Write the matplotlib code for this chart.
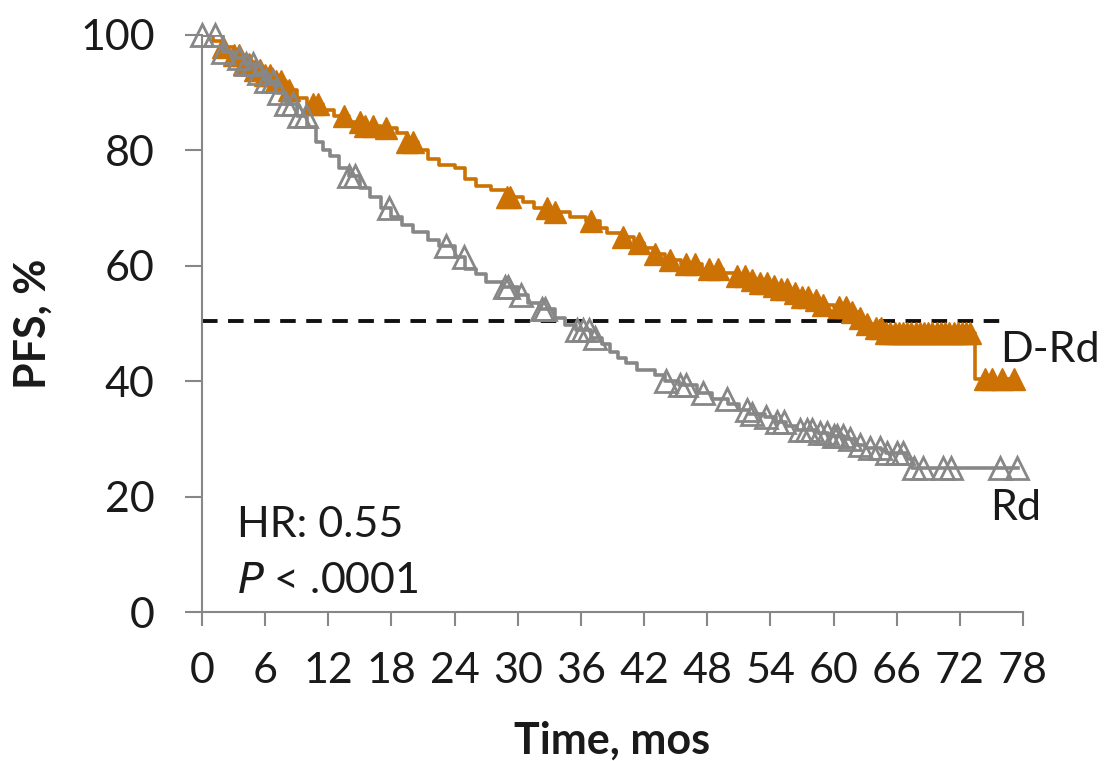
import numpy as np
import matplotlib
matplotlib.use("Agg")
import matplotlib.pyplot as plt

plt.rcParams['font.family'] = ['Lato', 'DejaVu Sans']

# Kaplan-Meier step curves (time of change, survival after change)
drd_t = [0, 1.0, 2.0, 3.0, 4.0, 5.0, 6.0, 7.0, 8.0, 9.0, 10.0, 11.5, 12.5, 14.0, 15.5,
         17.0, 18.5, 19.5, 20.5, 21.5, 22.5, 24.0, 25.0, 26.0, 27.5, 29.0, 30.5, 31.5,
         33.0, 35.0, 36.5, 37.8, 38.5, 40.0, 41.0, 42.0, 43.0, 44.0, 45.5, 47.5, 49.5,
         50.5, 52.0, 53.0, 54.0, 55.0, 56.0, 57.0, 58.0, 59.0, 60.0, 61.5, 62.5, 63.2,
         64.0, 64.7, 73.4, 77.5]
drd_s = [100, 99, 98, 96.5, 95, 94, 93, 92, 90.5, 89, 88, 87, 86, 85, 84.3,
         83.8, 83, 81.5, 80, 78.5, 77.5, 77, 75, 73.8, 73.2, 72, 71, 70,
         69.3, 68.5, 67.8, 66.5, 65.7, 65, 64, 63, 62, 61, 60.3, 59.5, 58.8,
         58.2, 57.5, 57, 56.5, 56, 55.3, 54.6, 54, 53.2, 52.8, 52, 51, 50,
         49.2, 48.4, 40.4, 40.4]
drd_cens = [2.0, 3.0, 3.5, 4.0, 4.5, 5.0, 5.5, 6.0, 6.5, 7.0, 7.5, 8.3, 10.5, 11.0,
            13.5, 15.0, 15.5, 16.2, 17.5, 19.5, 20.0, 29.0, 29.3, 32.8, 33.5, 37.0,
            40.0, 41.5, 43.0, 44.5, 46.0, 46.8, 48.2, 49.0, 50.8, 51.6, 52.3, 53.0,
            53.7, 54.3, 55.0, 55.6, 56.3, 57.0, 57.6, 58.3, 59.0, 60.5, 61.2, 61.8,
            62.5, 63.2, 64.0, 64.5, 65.0, 65.4, 65.8, 66.2, 66.6, 67.0, 67.4, 67.8,
            68.2, 68.6, 69.0, 69.4, 69.8, 70.2, 70.6, 71.0, 71.4, 71.8, 72.2, 72.6,
            73.0, 74.4, 75.1, 76.0, 77.1]

rd_t = [0, 2.0, 3.0, 4.0, 5.0, 6.0, 7.0, 8.0, 9.0, 10.0, 10.8, 11.5, 12.2, 13.0, 14.0,
        15.0, 16.0, 17.0, 18.0, 19.0, 20.0, 21.5, 22.5, 24.0, 25.0, 26.0, 27.0, 28.5,
        30.0, 31.0, 32.0, 33.5, 34.5, 35.5, 37.0, 38.0, 38.8, 39.5, 40.3, 41.3, 43.0,
        44.0, 45.3, 47.0, 48.5, 50.0, 51.0, 52.0, 53.5, 54.5, 55.5, 56.5, 58.5, 59.5,
        61.0, 62.0, 63.0, 64.5, 65.0, 67.0, 67.5, 77.5]
rd_s = [100, 97, 96, 95, 93.5, 92, 90, 88, 86, 84, 81.5, 80, 79, 77, 75.5,
        73.5, 72, 70, 68.5, 67, 65.8, 64.5, 63.5, 61.5, 59.5, 58.5, 57.2, 56.3,
        55, 53.5, 52.5, 51, 49.8, 48.8, 47.5, 46.5, 45, 44, 43.2, 42, 41,
        40, 39.3, 38, 37, 36, 35, 34.3, 33.8, 33, 32.2, 31.5, 31, 30.5,
        30, 29, 28.5, 28, 27.6, 26.5, 25, 25]
rd_cens = [0.0, 1.2, 2.0, 3.5, 4.2, 4.8, 5.4, 6.1, 6.7, 7.3, 8.0, 8.6, 9.2, 9.9,
           14.0, 14.5, 17.8, 23.2, 24.9, 28.8, 29.1, 30.3, 32.3, 32.6, 35.6, 36.2,
           36.8, 37.3, 44.1, 45.4, 46.0, 47.6, 49.9, 51.8, 52.3, 53.6, 54.6, 55.3,
           56.8, 57.5, 58.0, 58.7, 59.4, 60.0, 60.3, 60.9, 61.6, 62.5, 63.5, 64.4,
           65.1, 66.0, 66.6, 67.6, 68.5, 70.4, 71.2, 75.8, 77.4]

median_line = 50.5
xticks = list(range(0, 79, 6))
yticks = list(range(0, 101, 20))

orange = '#CC7204'
grey = '#878787'


def step_at(t, s, x):
    idx = np.searchsorted(t, x, side='right') - 1
    return np.asarray(s)[idx]


fig = plt.figure(figsize=(11.04, 7.61), dpi=100)
ax = fig.add_axes([202 / 1104, 1 - 612 / 761, 821 / 1104, 577 / 761])

ax.plot([0, 76], [median_line, median_line], color='#111111', lw=2.8,
        dashes=(4, 2.7), zorder=1)

# D-Rd
ax.step(drd_t, drd_s, where='post', color=orange, lw=2.6, zorder=2)
ax.plot(drd_cens, step_at(drd_t, drd_s, drd_cens), ls='none', marker='^',
        ms=15.5, color=orange, mec=orange, zorder=3, clip_on=False)

# Rd
ax.step(rd_t, rd_s, where='post', color=grey, lw=2.6, zorder=4)
ax.plot(rd_cens, step_at(rd_t, rd_s, rd_cens), ls='none', marker='^',
        ms=15.5, mfc='none', mec=grey, mew=2.0, zorder=5, clip_on=False)

ax.set_xlim(0, 78)
ax.set_ylim(0, 100)
ax.set_xticks(xticks)
ax.set_yticks(yticks)

for side in ['top', 'right']:
    ax.spines[side].set_visible(False)
for side in ['left', 'bottom']:
    ax.spines[side].set_color(grey)
    ax.spines[side].set_linewidth(1.5)

ax.tick_params(axis='both', direction='out', color=grey, width=1.5,
               labelsize=31, labelcolor='#1a1a1a')
ax.tick_params(axis='x', length=10, pad=19)
ax.tick_params(axis='y', length=12, pad=22)

ax.set_xlabel('Time, mos', fontsize=31, fontweight='bold', color='#1a1a1a', labelpad=22)
ax.set_ylabel('PFS, %', fontsize=31, fontweight='bold', color='#1a1a1a', labelpad=20)

ax.text(75.8, 45.4, 'D-Rd', fontsize=31, color='#1a1a1a', va='center', ha='left')
ax.text(74.9, 18.0, 'Rd', fontsize=31, color='#1a1a1a', va='center', ha='left')
ax.text(3.3, 15.0, 'HR: 0.55', fontsize=31, color='#1a1a1a', va='center', ha='left')
ax.text(3.3, 5.3, r'$\it{P}$ < .0001', fontsize=31, color='#1a1a1a', va='center', ha='left')

fig.savefig('out.png', dpi=100)
